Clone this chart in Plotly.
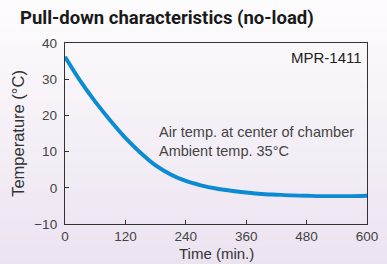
import plotly.graph_objects as go

# Data
time_min = [0, 30, 60, 90, 120, 150, 180, 210, 240, 270, 300, 330, 360, 390, 420, 450, 480, 510, 540, 570, 600]
temp_c = [36.2, 29.6, 23.8, 18.6, 13.8, 9.7, 6.2, 3.7, 1.9, 0.7, -0.2, -0.8, -1.3, -1.7, -1.9, -2.1, -2.2, -2.3, -2.3, -2.3, -2.2]
x_ticks = [0, 120, 240, 360, 480, 600]
y_ticks = [-10, 0, 10, 20, 30, 40]
y_tick_labels = ["\u221210", "0", "10", "20", "30", "40"]

W, H = 387, 264
ml, mr, mt, mb = 65, 20, 43, 40
pw = W - ml - mr
ph = H - mt - mb

fig = go.Figure()
fig.add_trace(go.Scatter(x=time_min, y=temp_c, mode="lines",
                         line=dict(color="#0a8bd2", width=3.9, shape="spline", smoothing=0.8),
                         hoverinfo="skip", showlegend=False))

# vertical background gradient (white -> lavender)
shapes = []
n = 44
top = 1 + mt / ph
bot = -mb / ph
c0 = (253, 252, 253)
c1 = (236, 227, 240)
for i in range(n):
    f = i / (n - 1)
    c = tuple(round(c0[k] + (c1[k] - c0[k]) * f) for k in range(3))
    y1 = top - (top - bot) * i / n
    y0 = top - (top - bot) * (i + 1) / n - 0.002
    shapes.append(dict(type="rect", xref="paper", yref="paper",
                       x0=-ml / pw - 0.01, x1=1 + mr / pw + 0.01,
                       y0=y0, y1=y1, fillcolor="rgb(%d,%d,%d)" % c,
                       line=dict(width=0), layer="below"))

FONT = "Liberation Sans, Arial, sans-serif"
axis_common = dict(showline=True, linecolor="#333333", linewidth=1.3, mirror=True,
                   ticks="inside", ticklen=4, tickcolor="#333333", tickwidth=1,
                   showgrid=False, zeroline=False, automargin=False,
                   tickfont=dict(family=FONT, size=13.5, color="#444444"))

fig.update_layout(
    width=W, height=H,
    margin=dict(l=ml, r=mr, t=mt, b=mb),
    paper_bgcolor="rgba(0,0,0,0)",
    plot_bgcolor="rgba(0,0,0,0)",
    shapes=shapes,
    xaxis=dict(range=[0, 600], tickvals=x_ticks, ticktext=[str(v) for v in x_ticks],
               ticklabelstandoff=0, **axis_common),
    yaxis=dict(range=[-10, 40], tickvals=y_ticks, ticktext=y_tick_labels,
               ticklabelstandoff=4,
               title=dict(text="Temperature (\u00b0C)", standoff=5,
                          font=dict(family=FONT, size=16.5, color="#333333")),
               **axis_common),
    annotations=[
        dict(text="<b>Pull-down characteristics (no-load)</b>", xref="paper", yref="paper",
             x=(18 - ml) / pw, y=1 + 25 / ph, xanchor="left", yanchor="middle",
             showarrow=False, font=dict(family="Liberation Sans Narrow, Roboto, sans-serif", size=18.5, color="#1a1a1a")),
        dict(text="Time (min.)", xref="paper", yref="paper", x=0.5, y=-(253 - (H - mb)) / ph,
             xanchor="center", yanchor="middle",
             showarrow=False, font=dict(family=FONT, size=15, color="#333333")),
        dict(text="MPR-1411", xref="paper", yref="paper", x=(364 - ml) / pw, y=1 - 14 / ph,
             xanchor="right", yanchor="middle",
             showarrow=False, font=dict(family=FONT, size=15, color="#222222")),
        dict(text="Air temp. at center of chamber<br>Ambient temp. 35\u00b0C", xref="paper", yref="paper",
             x=(157 - ml) / pw, y=1 - (141 - mt) / ph, xanchor="left", yanchor="middle", align="left",
             showarrow=False, font=dict(family=FONT, size=14.5, color="#444444")),
    ],
)

fig.write_html("out.html", config={"displayModeBar": False},
               post_script="document.body.style.margin='0px';document.body.style.padding='0px';")
